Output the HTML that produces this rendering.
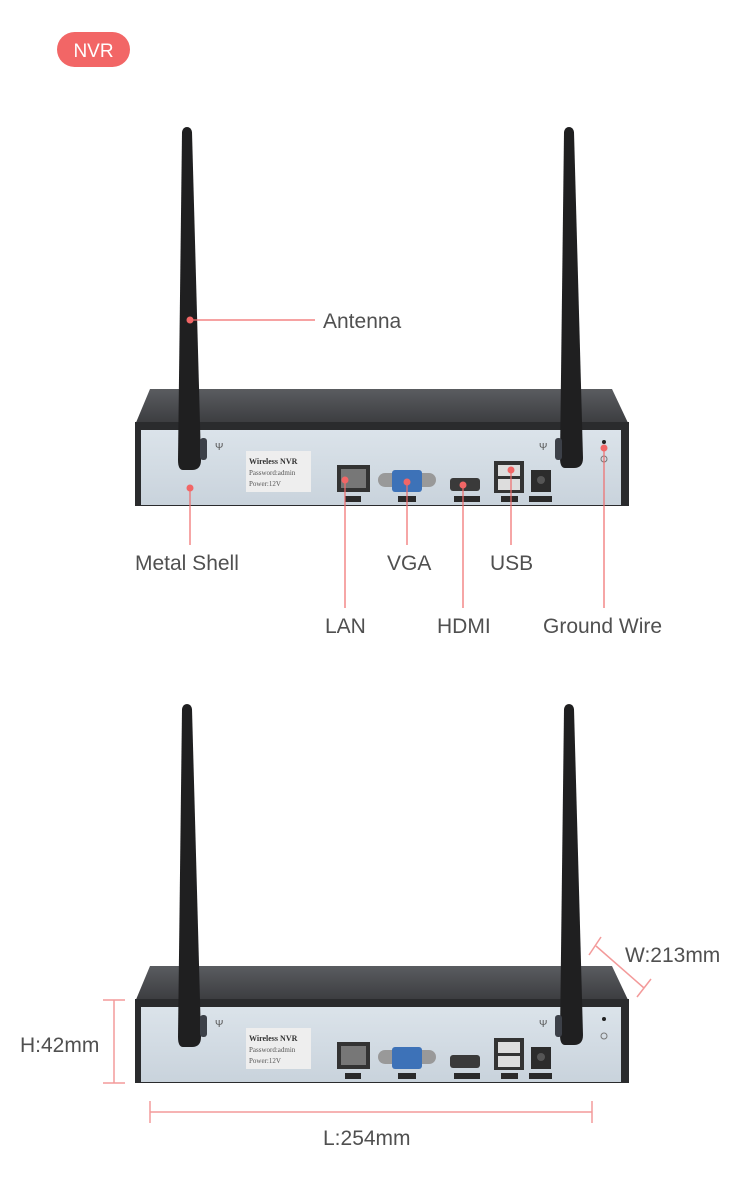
<!DOCTYPE html>
<html><head><meta charset="utf-8"><style>
html,body{margin:0;padding:0;background:#fff;}
svg{display:block;}
text{font-family:"Liberation Sans",sans-serif;fill:#505050;}
</style></head><body>
<svg width="750" height="1196" viewBox="0 0 750 1196" xmlns="http://www.w3.org/2000/svg">
<defs>
<linearGradient id="top" x1="0" y1="0" x2="0" y2="1"><stop offset="0" stop-color="#5a5c60"/><stop offset="1" stop-color="#3a3b3e"/></linearGradient>
<linearGradient id="front" x1="0" y1="0" x2="0" y2="1"><stop offset="0" stop-color="#dbe3ea"/><stop offset="1" stop-color="#c9d3dc"/></linearGradient>
<g id="dev">
 <polygon points="150,389 612,389 629,425 135,425" fill="url(#top)"/>
 <rect x="135" y="422" width="494" height="84" fill="#2a2b2d"/>
 <rect x="141" y="430" width="480" height="75" fill="url(#front)"/>
 <path d="M182,132 Q183,127 187,127 Q191,127 192,132 L201,460 Q201,470 192,470 L183,470 Q178,470 178,460 Z" fill="#1f1f20"/>
 <rect x="200" y="438" width="7" height="22" rx="3" fill="#3c4048"/>
 <path d="M564,132 Q565,127 569,127 Q573,127 574,132 L583,458 Q583,468 574,468 L565,468 Q560,468 560,458 Z" fill="#1f1f20"/>
 <rect x="555" y="438" width="7" height="22" rx="3" fill="#3c4048"/>
 <text x="215" y="450" font-size="10" style="fill:#555">Ψ</text>
 <text x="539" y="450" font-size="10" style="fill:#555">Ψ</text>
 <rect x="246" y="451" width="65" height="41" fill="#eeeeee"/>
 <text x="249" y="464" font-size="8" font-weight="bold" style="fill:#333;font-family:'Liberation Serif',serif">Wireless NVR</text>
 <text x="249" y="475" font-size="7" style="fill:#555;font-family:'Liberation Serif',serif">Password:admin</text>
 <text x="249" y="486" font-size="7" style="fill:#555;font-family:'Liberation Serif',serif">Power:12V</text>
 <rect x="337" y="465" width="33" height="27" fill="#333"/>
 <rect x="341" y="469" width="25" height="19" fill="#777"/>
 <rect x="345" y="496" width="16" height="6" fill="#2a2a2a"/>
 <rect x="378" y="473" width="58" height="14" rx="7" fill="#999"/>
 <rect x="392" y="470" width="30" height="22" rx="3" fill="#3d72b8"/>
 <rect x="398" y="496" width="18" height="6" fill="#2a2a2a"/>
 <rect x="450" y="478" width="30" height="13" rx="3" fill="#3a3a3a"/>
 <rect x="454" y="496" width="26" height="6" fill="#2a2a2a"/>
 <rect x="494" y="461" width="30" height="32" fill="#333"/>
 <rect x="498" y="465" width="22" height="11" fill="#ddd"/>
 <rect x="498" y="479" width="22" height="11" fill="#ddd"/>
 <rect x="501" y="496" width="17" height="6" fill="#2a2a2a"/>
 <rect x="531" y="470" width="20" height="22" fill="#2c2c2c"/>
 <circle cx="541" cy="480" r="4" fill="#555"/>
 <rect x="529" y="496" width="23" height="6" fill="#2a2a2a"/>
 <circle cx="604" cy="442" r="2" fill="#222"/>
 <circle cx="604" cy="459" r="3" fill="none" stroke="#777" stroke-width="1"/>
</g>
</defs>

<rect x="57" y="32" width="73" height="35" rx="17.5" fill="#f26666"/>
<text x="93.5" y="57" font-size="19" text-anchor="middle" style="fill:#fff">NVR</text>

<use href="#dev"/>
<use href="#dev" transform="translate(0,577)"/>

<g stroke="#f06b6b" stroke-width="1.2" fill="none">
 <line x1="190" y1="320" x2="315" y2="320"/>
 <line x1="190" y1="488" x2="190" y2="545"/>
 <line x1="345" y1="480" x2="345" y2="608"/>
 <line x1="407" y1="482" x2="407" y2="545"/>
 <line x1="463" y1="485" x2="463" y2="608"/>
 <line x1="511" y1="470" x2="511" y2="545"/>
 <line x1="604" y1="448" x2="604" y2="608"/>
</g>
<g fill="#f26666">
 <circle cx="190" cy="320" r="3.5"/>
 <circle cx="190" cy="488" r="3.5"/>
 <circle cx="345" cy="480" r="3.5"/>
 <circle cx="407" cy="482" r="3.5"/>
 <circle cx="463" cy="485" r="3.5"/>
 <circle cx="511" cy="470" r="3.5"/>
 <circle cx="604" cy="448" r="3.5"/>
</g>
<text x="323" y="328" font-size="21">Antenna</text>
<text x="135" y="570" font-size="21">Metal Shell</text>
<text x="387" y="570" font-size="21">VGA</text>
<text x="490" y="570" font-size="21">USB</text>
<text x="325" y="633" font-size="21">LAN</text>
<text x="437" y="633" font-size="21">HDMI</text>
<text x="543" y="633" font-size="21">Ground Wire</text>

<g stroke="#f39a9a" stroke-width="1.5" fill="none">
 <line x1="114" y1="1000" x2="114" y2="1083"/>
 <line x1="103" y1="1000" x2="125" y2="1000"/>
 <line x1="103" y1="1083" x2="125" y2="1083"/>
 <line x1="150" y1="1112" x2="592" y2="1112"/>
 <line x1="150" y1="1101" x2="150" y2="1123"/>
 <line x1="592" y1="1101" x2="592" y2="1123"/>
 <line x1="596" y1="946" x2="644" y2="988"/>
 <line x1="589" y1="955" x2="601" y2="937"/>
 <line x1="637" y1="997" x2="651" y2="979"/>
</g>
<text x="20" y="1052" font-size="21">H:42mm</text>
<text x="323" y="1145" font-size="21">L:254mm</text>
<text x="625" y="962" font-size="21">W:213mm</text>
</svg>
</body></html>
